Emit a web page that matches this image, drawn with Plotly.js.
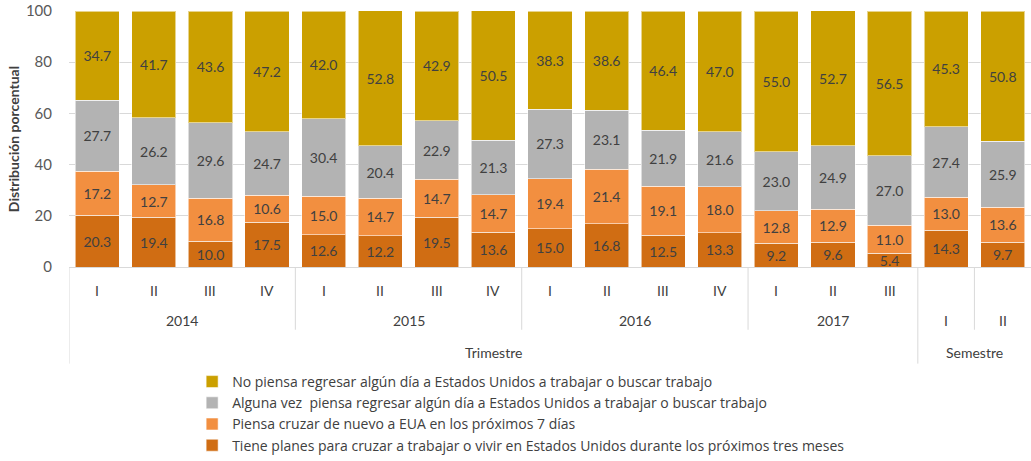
<!DOCTYPE html>
<html>
<head>
<meta charset="utf-8">
<script src="https://cdn.plot.ly/plotly-3.0.1.min.js"></script>
<style>html,body{margin:0;padding:0;background:#fff;}#chart{width:1031px;height:461px;}</style>
</head>
<body>
<div id="chart"></div>
<script>
// Category labels (quarters for 2014-2017, then semesters)
const periodLabels = ["I","II","III","IV","I","II","III","IV","I","II","III","IV","I","II","III","I","II"];
const yearLabels = ["2014","2015","2016","2017"];
const yearSizes = [4,4,4,3];
const semestreLabels = ["I","II"];
const groupTrimestre = "Trimestre";
const groupSemestre = "Semestre";

const serieNames = [
  "Tiene planes para cruzar a trabajar o vivir en Estados Unidos durante los próximos tres meses",
  "Piensa cruzar de nuevo a EUA en los próximos 7 días",
  "Alguna vez  piensa regresar algún día a Estados Unidos a trabajar o buscar trabajo",
  "No piensa regresar algún día a Estados Unidos a trabajar o buscar trabajo"
];
const tienePlanes = [20.3,19.4,10.0,17.5,12.6,12.2,19.5,13.6,15.0,16.8,12.5,13.3,9.2,9.6,5.4,14.3,9.7];
const piensaCruzar = [17.2,12.7,16.8,10.6,15.0,14.7,14.7,14.7,19.4,21.4,19.1,18.0,12.8,12.9,11.0,13.0,13.6];
const algunaVez = [27.7,26.2,29.6,24.7,30.4,20.4,22.9,21.3,27.3,23.1,21.9,21.6,23.0,24.9,27.0,27.4,25.9];
const noPiensa = [34.7,41.7,43.6,47.2,42.0,52.8,42.9,50.5,38.3,38.6,46.4,47.0,55.0,52.7,56.5,45.3,50.8];

const colors = ["#D06D13","#F28F40","#B3B3B3","#CBA000"];
const FONT = "Lato, 'Open Sans', sans-serif";
const LFONT = "'Open Sans', Lato, sans-serif";
const TXT = "#404040";

const xIdx = periodLabels.map((_, i) => i);
const series = [tienePlanes, piensaCruzar, algunaVez, noPiensa];

const traces = series.map((vals, k) => ({
  type: "bar",
  name: serieNames[k],
  x: xIdx,
  y: vals,
  marker: {color: colors[k], line: {color: "rgba(255,255,255,0.55)", width: 1}},
  width: 0.78,
  texttemplate: "%{y:.1f}",
  textposition: "inside",
  insidetextanchor: "middle",
  textangle: 0,
  constraintext: "none",
  textfont: {family: FONT, size: 14, color: TXT},
  hoverinfo: "name+y"
}));

// geometry helpers in paper coords
const plotTop = 11, plotBottom = 268, plotH = plotBottom - plotTop;
const py = p => (plotBottom - p) / plotH;

const annotations = [];
const shapes = [];
const nTrim = yearSizes.reduce((a,b)=>a+b,0);
const labFont = {family: FONT, size: 14, color: "#404040"};

// quarter labels
for (let i = 0; i < nTrim; i++) {
  annotations.push({x: i, y: py(292), xref: "x", yref: "paper", text: periodLabels[i], showarrow: false,
    font: labFont, xanchor: "center", yanchor: "middle"});
}
// year labels and dividers
let start = 0;
yearLabels.forEach((lab, j) => {
  const center = start + (yearSizes[j] - 1) / 2;
  annotations.push({x: center, y: py(322), xref: "x", yref: "paper", text: lab, showarrow: false,
    font: labFont, xanchor: "center", yanchor: "middle"});
  start += yearSizes[j];
  if (j < yearLabels.length - 1) {
    shapes.push({type: "line", xref: "x", yref: "paper", x0: start - 0.5, x1: start - 0.5, y0: 0, y1: py(331),
      line: {color: "#D9D9D9", width: 1}});
  }
});
// semester labels
semestreLabels.forEach((lab, j) => {
  annotations.push({x: nTrim + j, y: py(322), xref: "x", yref: "paper", text: lab, showarrow: false,
    font: labFont, xanchor: "center", yanchor: "middle"});
});
shapes.push({type: "line", xref: "x", yref: "paper", x0: nTrim + 0.5, x1: nTrim + 0.5, y0: 0, y1: py(331),
  line: {color: "#D9D9D9", width: 1}});
// long dividers
[-0.5, nTrim - 0.5].forEach(xv => shapes.push({type: "line", xref: "x", yref: "paper", x0: xv, x1: xv, y0: 0, y1: py(365),
  line: {color: "#D9D9D9", width: 1}}));
// group titles
annotations.push({x: (nTrim - 1) / 2, y: py(354), xref: "x", yref: "paper", text: groupTrimestre, showarrow: false,
  font: labFont, xanchor: "center", yanchor: "middle"});
annotations.push({x: nTrim + (semestreLabels.length - 1) / 2, y: py(354), xref: "x", yref: "paper", text: groupSemestre, showarrow: false,
  font: labFont, xanchor: "center", yanchor: "middle"});

const layout = {
  width: 1031, height: 461,
  margin: {l: 69, r: 0, t: 11, b: 193},
  barmode: "stack",
  paper_bgcolor: "#fff", plot_bgcolor: "#fff",
  font: {family: FONT, color: TXT},
  xaxis: {range: [-0.5, periodLabels.length - 0.5], showticklabels: false, ticks: "", showgrid: false,
    zeroline: false, showline: true, linecolor: "#D9D9D9", linewidth: 1, fixedrange: true},
  yaxis: {range: [0, 100], tickvals: [0,20,40,60,80,100], showgrid: true, gridcolor: "#D9D9D9", gridwidth: 1,
    zeroline: false, showline: false, ticks: "", ticklabelstandoff: 16,
    tickfont: {family: FONT, size: 15, color: "#595959"},
    title: {text: "<b>Distribución porcentual</b>", font: {family: FONT, size: 14, color: TXT}, standoff: 2},
    fixedrange: true},
  showlegend: true,
  legend: {orientation: "v", traceorder: "reversed", x: 0.128, xanchor: "left", y: py(367), yanchor: "top",
    font: {family: LFONT, size: 14, color: TXT}, itemwidth: 30, bgcolor: "rgba(0,0,0,0)"},
  annotations: annotations,
  shapes: shapes
};

Plotly.newPlot("chart", traces, layout, {displayModeBar: false});
</script>
</body>
</html>
